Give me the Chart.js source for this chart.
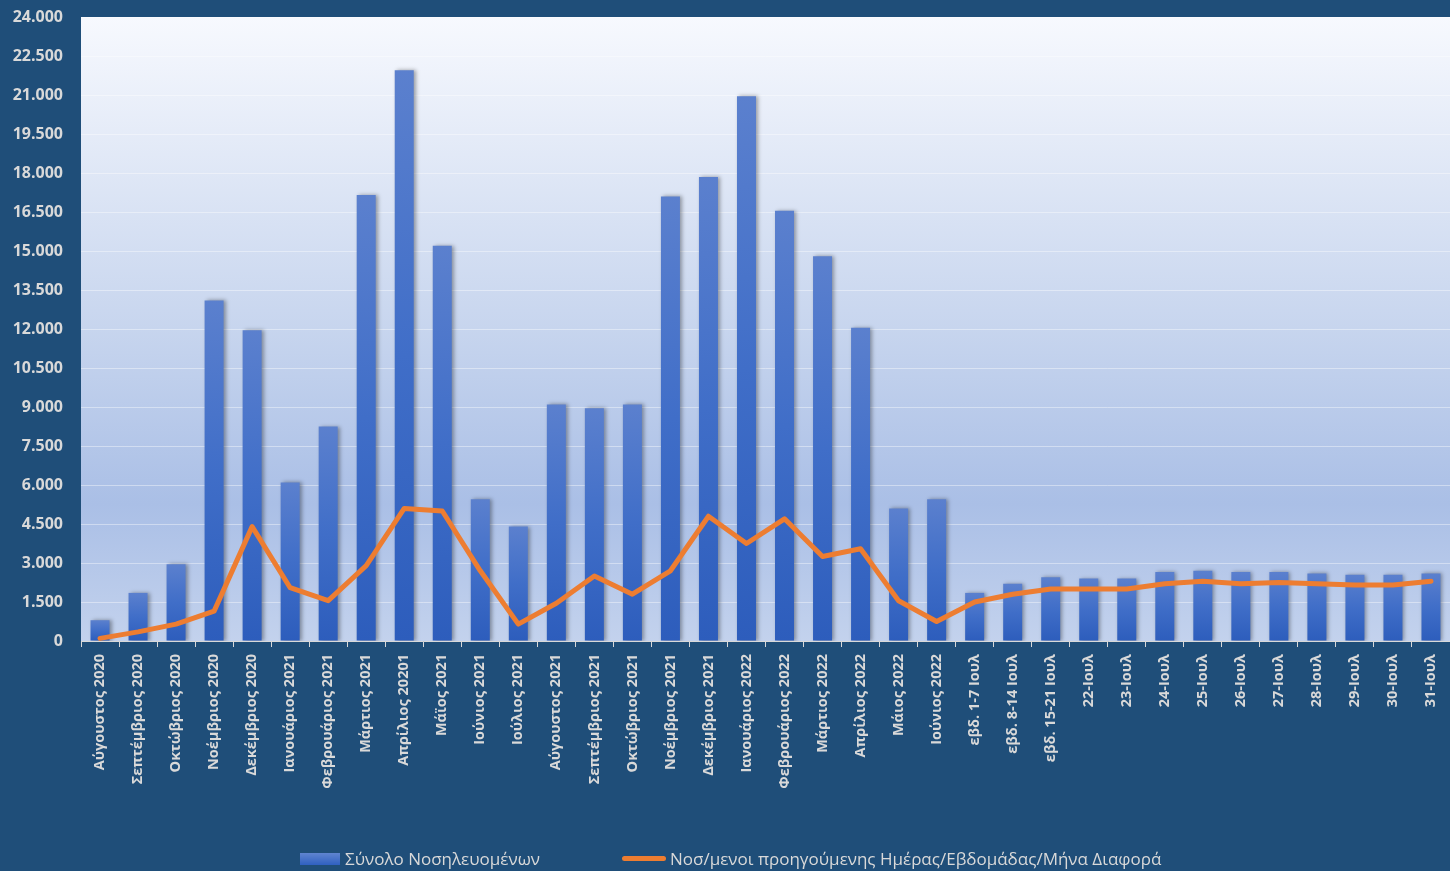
<!DOCTYPE html>
<html lang="el">
<head>
<meta charset="utf-8">
<title>Σύνολο Νοσηλευομένων</title>
<script src="https://cdn.jsdelivr.net/npm/chart.js@4.4.1/dist/chart.umd.min.js"></script>
<style>
  body { margin: 0; background: #1F4E79; }
  #wrap { position: relative; width: 1450px; height: 871px; }
  .legend-item { position: absolute; top: 847px; display: flex; align-items: center; font: 17px 'Open Sans', sans-serif; color: #D9D9D9; white-space: nowrap; }
  .swatch-bar { width: 40px; height: 12px; background: linear-gradient(#5F84D0, #2F60C0); margin-right: 5px; }
  .swatch-line { width: 44px; height: 5px; border-radius: 3px; background: #ED7D31; margin-right: 4px; }
</style>
</head>
<body>
<div id="wrap">
  <canvas id="chart" width="1450" height="871"></canvas>
  <div class="legend-item" style="left:300px"><span class="swatch-bar"></span><span id="lgBar"></span></div>
  <div class="legend-item" style="left:622px"><span class="swatch-line"></span><span id="lgLine"></span></div>
</div>
<script>
// Data
const categories = [
    'Αύγουστος 2020', 'Σεπτέμβριος 2020', 'Οκτώβριος 2020', 'Νοέμβριος 2020', 'Δεκέμβριος 2020',
    'Ιανουάριος 2021', 'Φεβρουάριος 2021', 'Μάρτιος 2021', 'Απρίλιος 20201', 'Μάϊος 2021',
    'Ιούνιος 2021', 'Ιούλιος 2021', 'Αύγουστος 2021', 'Σεπτέμβριος 2021', 'Οκτώβριος 2021',
    'Νοέμβριος 2021', 'Δεκέμβριος 2021', 'Ιανουάριος 2022', 'Φεβρουάριος 2022', 'Μάρτιος 2022',
    'Απρίλιος 2022', 'Μάιος 2022', 'Ιούνιος 2022', 'εβδ. 1-7 Ιουλ', 'εβδ. 8-14 Ιουλ',
    'εβδ. 15-21 Ιουλ', '22-Ιουλ', '23-Ιουλ', '24-Ιουλ', '25-Ιουλ', '26-Ιουλ', '27-Ιουλ',
    '28-Ιουλ', '29-Ιουλ', '30-Ιουλ', '31-Ιουλ'
];
const totalHospitalized = [
    800, 1850, 2950, 13100, 11950, 6100, 8250, 17150, 21950, 15200,
    5450, 4400, 9100, 8950, 9100, 17100, 17850, 20950, 16550, 14800,
    12050, 5100, 5450, 1850, 2200, 2450, 2400, 2400, 2650, 2700,
    2650, 2650, 2600, 2550, 2550, 2600
];
const periodDiff = [
    100, 350, 650, 1150, 4400, 2050, 1550, 2900, 5100, 5000,
    2700, 650, 1450, 2500, 1800, 2700, 4800, 3750, 4700, 3250,
    3550, 1550, 750, 1500, 1800, 2000, 2000, 2000, 2200, 2300,
    2200, 2250, 2200, 2150, 2150, 2300
];
const yMax = 24000;
const yStep = 1500;
const barLabel = 'Σύνολο Νοσηλευομένων';
const lineLabel = 'Νοσ/μενοι προηγούμενης Ημέρας/Εβδομάδας/Μήνα Διαφορά';

document.getElementById('lgBar').textContent = barLabel;
document.getElementById('lgLine').textContent = lineLabel;

const fmt = v => String(v).replace(/\B(?=(\d{3})+(?!\d))/g, '.');
const font = "'Open Sans', sans-serif";

// dark frame + gradient plot area
const backdrop = {
    id: 'backdrop',
    beforeDraw(chart) {
        const { ctx, chartArea: a } = chart;
        ctx.save();
        ctx.fillStyle = '#1F4E79';
        ctx.fillRect(0, 0, chart.width, chart.height);
        const g = ctx.createLinearGradient(0, a.top, 0, a.bottom);
        g.addColorStop(0, '#F7F9FE');
        g.addColorStop(0.5, '#C7D5EE');
        g.addColorStop(0.78, '#AABFE6');
        g.addColorStop(1, '#C3D2ED');
        ctx.fillStyle = g;
        ctx.fillRect(a.left, a.top, a.right - a.left, a.bottom - a.top);
        ctx.restore();
    }
};

// soft shadow behind bars
const barShadow = {
    id: 'barShadow',
    beforeDatasetDraw(chart, args) {
        if (args.meta.type !== 'bar') return;
        const ctx = chart.ctx;
        ctx.save();
        ctx.shadowColor = 'rgba(0, 0, 0, 0.35)';
        ctx.shadowBlur = 4;
        ctx.shadowOffsetX = 2;
    },
    afterDatasetDraw(chart, args) {
        if (args.meta.type !== 'bar') return;
        chart.ctx.restore();
    }
};

function barFill(c) {
    const chart = c.chart;
    const y = chart.scales.y;
    if (!chart.chartArea || !y || c.raw == null) return '#4472C4';
    const top = y.getPixelForValue(c.raw);
    const bottom = y.getPixelForValue(0);
    if (!isFinite(top) || bottom - top < 1) return '#4472C4';
    const g = chart.ctx.createLinearGradient(0, top, 0, bottom);
    g.addColorStop(0, '#5B80CE');
    g.addColorStop(0.5, '#406EC8');
    g.addColorStop(1, '#2D5DBC');
    return g;
}

new Chart(document.getElementById('chart'), {
    type: 'bar',
    data: {
        labels: categories,
        datasets: [{
            type: 'line',
            label: lineLabel,
            data: periodDiff,
            borderColor: '#ED7D31',
            backgroundColor: '#ED7D31',
            borderWidth: 5,
            borderCapStyle: 'round',
            borderJoinStyle: 'round',
            pointRadius: 0,
            tension: 0,
            order: 0
        }, {
            type: 'bar',
            label: barLabel,
            data: totalHospitalized,
            backgroundColor: barFill,
            borderWidth: 0,
            barPercentage: 0.5,
            categoryPercentage: 1,
            order: 1
        }]
    },
    options: {
        responsive: false,
        animation: false,
        layout: { padding: { top: 17, left: 0, right: 0, bottom: 0 } },
        plugins: {
            legend: { display: false },
            tooltip: { enabled: false }
        },
        scales: {
            x: {
                offset: true,
                grid: { display: true, drawOnChartArea: false, offset: true, color: '#D9D9D9', tickLength: 6 },
                border: { display: true, color: '#D9D9D9', width: 1 },
                ticks: {
                    autoSkip: false,
                    maxRotation: 90,
                    minRotation: 90,
                    padding: 7,
                    color: '#D9D9D9',
                    font: { family: font, size: 14.5, weight: 'bold' }
                },
                afterFit(s) {
                    s.height = 230;
                    s.paddingLeft = 0;
                    s.paddingRight = 0;
                }
            },
            y: {
                min: 0,
                max: yMax,
                grid: { color: 'rgba(255, 255, 255, 0.4)', drawTicks: false },
                border: { display: false },
                ticks: {
                    stepSize: yStep,
                    padding: 18,
                    color: '#D9D9D9',
                    font: { family: font, size: 16, weight: 'bold' },
                    callback: v => fmt(v)
                },
                afterFit(s) {
                    s.width = 81;
                    s.paddingTop = 0;
                    s.paddingBottom = 0;
                }
            }
        }
    },
    plugins: [backdrop, barShadow]
});
</script>
</body>
</html>
